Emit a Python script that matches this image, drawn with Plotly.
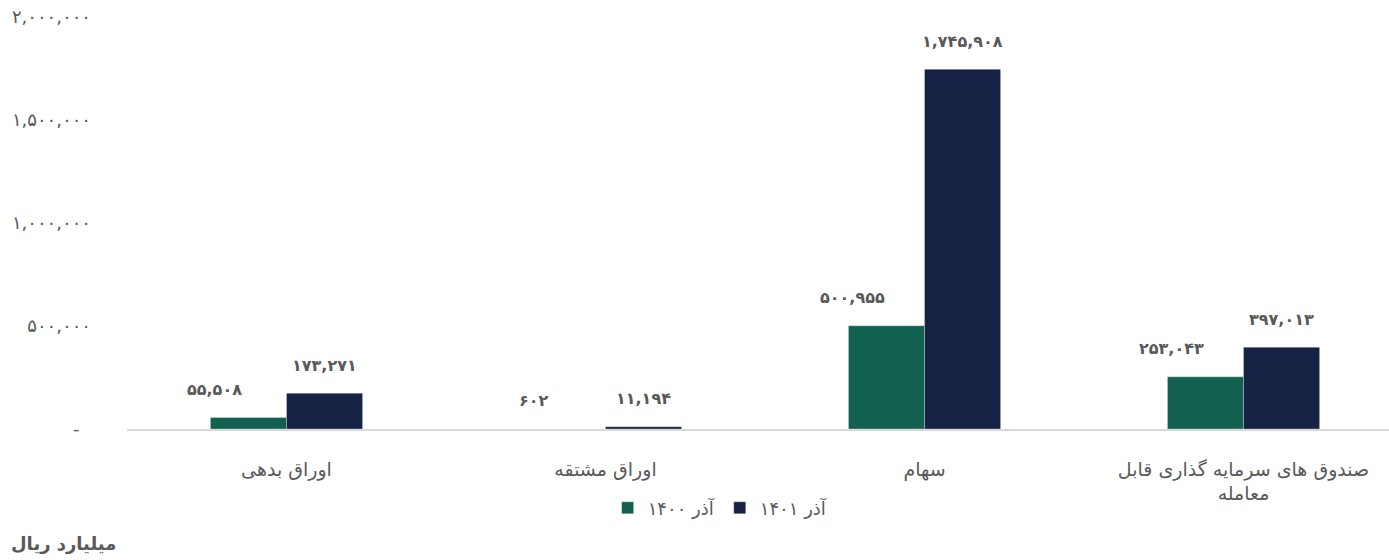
import plotly.graph_objects as go

categories = ["اوراق بدهی", "اوراق مشتقه", "سهام", "صندوق های سرمایه گذاری قابل<br>معامله"]
series_names = ["آذر ۱۴۰۰", "آذر ۱۴۰۱"]
values_1400 = [55508, 602, 500955, 253043]
values_1401 = [173271, 11194, 1745908, 397013]
y_tickvals = [0, 500000, 1000000, 1500000, 2000000]
y_ticktext = ["-\u00a0\u00a0", "۵۰۰,۰۰۰", "۱,۰۰۰,۰۰۰", "۱,۵۰۰,۰۰۰", "۲,۰۰۰,۰۰۰"]
unit_label = "میلیارد ریال"

colors = ["#126150", "#172345"]
FONT = "DejaVu Sans"
GRAY = "#595959"

def fa(n):
    s = f"{n:,}"
    return s.translate(str.maketrans("0123456789", "۰۱۲۳۴۵۶۷۸۹"))

fig = go.Figure()
for name, vals, col in zip(series_names, [values_1400, values_1401], colors):
    fig.add_trace(go.Bar(
        x=categories, y=vals, name=name, marker_color=col,
        marker_line=dict(width=0.6, color="rgba(255,255,255,0.5)"),
    ))

annotations = []
for vals, xs in zip([values_1400, values_1401], [-72, 38]):
    for c, v in zip(categories, vals):
        annotations.append(dict(
            x=c, y=v, xref="x", yref="y", text=fa(v), showarrow=False,
            xshift=xs, yshift=28, yanchor="middle",
            font=dict(family=FONT, size=16, color=GRAY, weight="bold"),
        ))
annotations.append(dict(
    x=-0.05, y=-0.277, xref="paper", yref="paper", text=unit_label,
    showarrow=False, xanchor="center", yanchor="middle",
    font=dict(family=FONT, size=18, color=GRAY, weight="bold"),
))

fig.update_layout(
    width=1389, height=560,
    margin=dict(l=127, r=0, t=17, b=131, autoexpand=False),
    paper_bgcolor="white", plot_bgcolor="white",
    barmode="group", bargap=0.523, bargroupgap=0,
    font=dict(family=FONT, color=GRAY),
    legend=dict(orientation="h", x=0.47, xanchor="center", y=-0.192, yanchor="middle",
                font=dict(family=FONT, size=18, color=GRAY), traceorder="normal"),
    annotations=annotations,
    xaxis=dict(range=[-0.5, 3.456], showgrid=False, showline=True, linecolor="#d9d9d9",
               linewidth=1.5, ticks="", ticklabelstandoff=22,
               tickfont=dict(family=FONT, size=19, color=GRAY)),
    yaxis=dict(range=[0, 2000000], showgrid=False, zeroline=False, showline=False,
               tickvals=y_tickvals, ticktext=y_ticktext, ticklabelstandoff=35,
               ticklabeloverflow="allow",
               tickfont=dict(family=FONT, size=18, color=GRAY)),
)

fig.write_html("out.html", config={"displayModeBar": False},
               post_script="document.body.style.margin='0';document.body.style.overflow='hidden';")
